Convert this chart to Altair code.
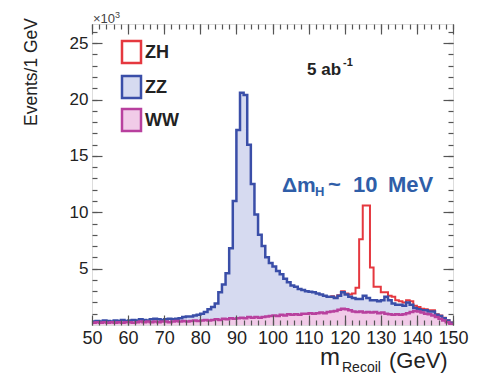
import altair as alt
import pandas as pd

FONT = "Liberation Sans"

# ---------------- data (thousands of events per 1 GeV bin) ----------------
bin_low = list(range(50, 150))

zz_total = [
    0.30, 0.35, 0.30, 0.40, 0.35, 0.30, 0.40, 0.35, 0.45, 0.35,   # 50-59
    0.40, 0.45, 0.40, 0.50, 0.45, 0.40, 0.50, 0.55, 0.50, 0.45,   # 60-69
    0.50, 0.55, 0.50, 0.55, 0.60, 0.70, 0.75, 0.75, 0.85, 0.90,   # 70-79
    1.00, 1.15, 1.40, 1.60, 1.90, 2.90, 3.60, 4.60, 6.80, 11.0,   # 80-89
    17.3, 20.6, 20.4, 16.0, 12.5, 9.80, 8.00, 7.00, 6.00, 5.50,   # 90-99
    5.20, 4.80, 4.50, 4.10, 3.80, 3.50, 3.40, 3.20, 3.10, 3.00,   # 100-109
    2.95, 2.90, 2.80, 2.70, 2.60, 2.50, 2.50, 2.40, 2.60, 2.90,   # 110-119
    2.70, 2.50, 2.40, 2.30, 2.30, 2.60, 2.40, 2.20, 2.20, 2.10,   # 120-129
    2.20, 2.50, 2.20, 1.90, 1.80, 1.80, 1.70, 2.00, 1.80, 1.50,   # 130-139
    1.40, 1.30, 1.30, 1.20, 1.20, 0.90, 0.80, 0.60, 0.40, 0.20,   # 140-149
]

ww = [
    0.20, 0.25, 0.20, 0.25, 0.20, 0.25, 0.20, 0.25, 0.20, 0.25,   # 50-59
    0.25, 0.20, 0.25, 0.30, 0.25, 0.30, 0.25, 0.30, 0.25, 0.30,   # 60-69
    0.30, 0.25, 0.30, 0.35, 0.30, 0.35, 0.30, 0.35, 0.40, 0.35,   # 70-79
    0.40, 0.45, 0.40, 0.45, 0.50, 0.45, 0.55, 0.50, 0.60, 0.55,   # 80-89
    0.60, 0.65, 0.60, 0.70, 0.65, 0.70, 0.65, 0.70, 0.75, 0.80,   # 90-99
    0.85, 0.80, 0.90, 0.85, 0.95, 0.90, 0.95, 0.90, 1.00, 1.00,   # 100-109
    1.05, 1.00, 1.05, 1.10, 1.05, 1.15, 1.20, 1.25, 1.35, 1.45,   # 110-119
    1.40, 1.30, 1.20, 1.15, 1.20, 1.10, 1.15, 1.10, 1.15, 1.05,   # 120-129
    1.10, 1.00, 0.95, 0.90, 0.95, 0.90, 0.95, 1.05, 1.15, 1.25,   # 130-139
    1.20, 1.10, 1.00, 0.95, 0.85, 0.70, 0.55, 0.40, 0.25, 0.10,   # 140-149
]

zh_start = 116
zh = [
    0.05, 0.05, 0.05, 0.10, 0.10, 0.20, 0.40, 1.00, 5.30, 8.00,   # 116-125
    8.20, 2.90, 1.20, 1.30, 0.70, 0.40, 0.40, 0.60, 0.40, 0.30,   # 126-135
    0.30, 0.20, 0.30, 0.20, 0.20, 0.15, 0.10, 0.10, 0.10, 0.05,   # 136-145
    0.05, 0.05, 0.03, 0.02,                                       # 146-149
]

x_major = [50, 60, 70, 80, 90, 100, 110, 120, 130, 140, 150]
x_minor = list(range(50, 151, 2))
y_major = [5, 10, 15, 20, 25]
y_minor = list(range(1, 27))

# ---------------- tables ----------------
edges = bin_low + [150]
df = pd.DataFrame({
    "m": edges,
    "zz": zz_total + [zz_total[-1]],
    "ww": ww + [ww[-1]],
})
zh_rows = []
for i, v in enumerate(zh):
    b = zh_start + i
    zh_rows.append({"m": b, "zh": zz_total[b - 50] + v})
zh_rows.append({"m": 150, "zh": zh_rows[-1]["zh"]})
df_zh = pd.DataFrame(zh_rows)

# ---------------- style ----------------
BLUE = "#3a4ea8"
ZZ_FILL = "#d6daf0"
MAG = "#b8409e"
WW_FILL = "#f1cbe8"
RED = "#e5383f"
TICK = "#555555"
LABEL = "#222222"
DBLUE = "#2f5ea8"

xs = alt.Scale(domain=[50, 150], nice=False, zero=False)
ys = alt.Scale(domain=[0, 26.7], nice=False, zero=True)

common = dict(grid=False, domain=False, tickColor=TICK, tickWidth=1.2,
              zindex=1, title=None)

ax_b_major = alt.Axis(orient="bottom", values=x_major, tickSize=10, offset=-10,
                      labelFontSize=18, labelPadding=4, labelFlush=False,
                      labelOverlap=False, labelColor=LABEL, labelFont=FONT,
                      format="d", **common)
ax_b_minor = alt.Axis(orient="bottom", values=x_minor, tickSize=5, offset=-5,
                      labels=False, **common)
ax_t_major = alt.Axis(orient="top", values=x_major, tickSize=10, offset=-10,
                      labels=False, **common)
ax_t_minor = alt.Axis(orient="top", values=x_minor, tickSize=5, offset=-5,
                      labels=False, **common)
ax_l_major = alt.Axis(orient="left", values=y_major, tickSize=10, offset=-10,
                      labelFontSize=17, labelPadding=4, labelFlush=False,
                      labelOverlap=False, labelColor=LABEL, labelFont=FONT,
                      format="d", **common)
ax_l_minor = alt.Axis(orient="left", values=y_minor, tickSize=5, offset=-5,
                      labels=False, **common)
ax_r_major = alt.Axis(orient="right", values=y_major, tickSize=10, offset=-10,
                      labels=False, **common)
ax_r_minor = alt.Axis(orient="right", values=y_minor, tickSize=5, offset=-5,
                      labels=False, **common)

base = alt.Chart(df)

zz_area = base.mark_area(interpolate="step-after", color=ZZ_FILL).encode(
    x=alt.X("m:Q", scale=xs, axis=ax_b_major),
    y=alt.Y("zz:Q", scale=ys, axis=ax_l_major),
)
ww_area = base.mark_area(interpolate="step-after", color=WW_FILL).encode(
    x=alt.X("m:Q", scale=xs, axis=ax_b_minor),
    y=alt.Y("ww:Q", scale=ys, axis=ax_l_minor),
)
zh_line = alt.Chart(df_zh).mark_line(interpolate="step-after", color=RED,
                                     strokeWidth=2).encode(
    x=alt.X("m:Q", scale=xs, axis=ax_t_major),
    y=alt.Y("zh:Q", scale=ys, axis=ax_r_major),
)
zz_line = base.mark_line(interpolate="step-after", color=BLUE,
                         strokeWidth=2.5).encode(
    x=alt.X("m:Q", scale=xs, axis=ax_t_minor),
    y=alt.Y("zz:Q", scale=ys, axis=ax_r_minor),
)
ww_line = base.mark_line(interpolate="step-after", color=MAG,
                         strokeWidth=2.5).encode(
    x=alt.X("m:Q", scale=xs, axis=None),
    y=alt.Y("ww:Q", scale=ys, axis=None),
)


def label(text, x, y, size, weight="normal", color=LABEL,
          baseline="alphabetic", align="left", angle=0):
    return alt.Chart(pd.DataFrame({"t": [text]})).mark_text(
        align=align, baseline=baseline, fontSize=size, fontWeight=weight,
        color=color, angle=angle, font=FONT,
    ).encode(x=alt.value(x), y=alt.value(y), text="t:N")


def box(y0, y1, fill, stroke):
    return alt.Chart(pd.DataFrame({"k": [0]})).mark_rect(
        fill=fill, stroke=stroke, strokeWidth=2.5,
    ).encode(x=alt.value(30), x2=alt.value(49), y=alt.value(y0), y2=alt.value(y1))


legend_names = ["ZH", "ZZ", "WW"]

texts = [
    label("Events/1 GeV", -60, 48, 17.5, baseline="middle", align="center", angle=270),
    label("×10", 1, -1, 13, color="#444444"),
    label("3", 23, -6, 9, color="#444444"),
    label("m", 228, 341, 24),
    label("Recoil", 250, 348, 14),
    label("(GeV)", 297, 344, 22),
    label("5 ab", 215, 51, 17, weight="bold"),
    label("-1", 251, 42, 11, weight="bold"),
    label("Δm", 190, 168, 21, weight="bold", color=DBLUE),
    label("H", 223, 172, 13, weight="bold", color=DBLUE),
    label("~", 236, 168, 22, weight="bold", color=DBLUE),
    label("10", 261, 168, 22, weight="bold", color=DBLUE),
    label("MeV", 296, 168, 22, weight="bold", color=DBLUE),
    label(legend_names[0], 53, 29, 18, weight="bold", baseline="middle"),
    label(legend_names[1], 53, 64, 18, weight="bold", baseline="middle"),
    label(legend_names[2], 53, 97, 18, weight="bold", baseline="middle"),
]

boxes = [
    box(17, 39, "#ffffff", RED),
    box(52, 74, ZZ_FILL, BLUE),
    box(85, 107, WW_FILL, MAG),
]

chart = alt.layer(
    zz_area, ww_area, zh_line, zz_line, ww_line, *boxes, *texts
).resolve_axis(
    x="independent", y="independent"
).properties(
    width=361, height=301,
    autosize=alt.AutoSizeParams(type="none"),
    padding={"left": 84, "top": 16, "right": 20, "bottom": 52},
).configure_view(
    stroke="#444444", strokeWidth=1.5
).configure(
    font=FONT
)

chart.save("out.html", embed_options={"renderer": "svg", "actions": False})
